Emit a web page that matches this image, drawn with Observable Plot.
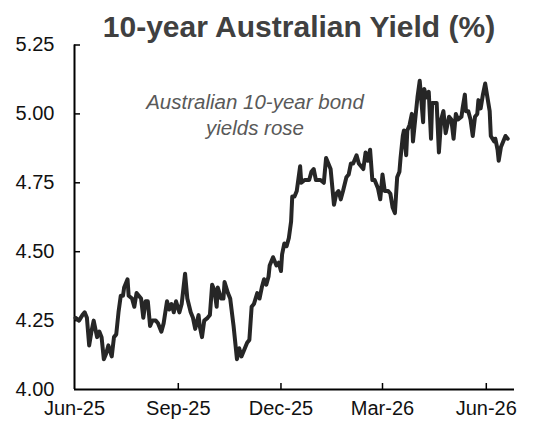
<!DOCTYPE html>
<html><head><meta charset="utf-8">
<script src="https://cdn.jsdelivr.net/npm/d3@7"></script>
<script src="https://cdn.jsdelivr.net/npm/@observablehq/plot@0.6"></script>
<style>
body{margin:0;background:#fff;}
#wrap{position:relative;width:540px;height:424px;font-family:"Liberation Sans",Arial,sans-serif;}
#title{position:absolute;left:0;top:12px;width:598px;text-align:center;font-size:30px;font-weight:bold;line-height:1;color:#404040;white-space:nowrap;}
</style></head><body>
<div id="wrap"><div id="chart"></div><div id="title">10-year Australian Yield (%)</div></div>
<script>
const dates = [
"2025-06-02","2025-06-05","2025-06-08","2025-06-10","2025-06-12","2025-06-14","2025-06-16","2025-06-18","2025-06-21","2025-06-23",
"2025-06-25","2025-06-27","2025-06-29","2025-07-01","2025-07-04","2025-07-06","2025-07-08","2025-07-10","2025-07-12","2025-07-14",
"2025-07-15","2025-07-18","2025-07-19","2025-07-22","2025-07-24","2025-07-26","2025-07-28","2025-07-30","2025-08-01","2025-08-03",
"2025-08-05","2025-08-07","2025-08-09","2025-08-12","2025-08-14","2025-08-17","2025-08-19","2025-08-22","2025-08-24","2025-08-26",
"2025-08-28","2025-08-30","2025-09-02","2025-09-04","2025-09-07","2025-09-09","2025-09-12","2025-09-14","2025-09-16","2025-09-19",
"2025-09-20","2025-09-22","2025-09-24","2025-09-27","2025-09-29","2025-10-01","2025-10-03","2025-10-05","2025-10-06","2025-10-09",
"2025-10-11","2025-10-12","2025-10-15","2025-10-17","2025-10-20","2025-10-23","2025-10-25","2025-10-27","2025-10-29","2025-11-01",
"2025-11-03","2025-11-05","2025-11-07","2025-11-10","2025-11-12","2025-11-14","2025-11-16","2025-11-18","2025-11-20","2025-11-21",
"2025-11-24","2025-11-26","2025-11-27","2025-11-29","2025-12-01","2025-12-02","2025-12-04","2025-12-06","2025-12-08","2025-12-10",
"2025-12-11","2025-12-13","2025-12-15","2025-12-16","2025-12-18","2025-12-19","2025-12-22","2025-12-24","2025-12-26","2025-12-28",
"2025-12-30","2026-01-01","2026-01-03","2026-01-05","2026-01-08","2026-01-10","2026-01-12","2026-01-14","2026-01-17","2026-01-19",
"2026-01-21","2026-01-23","2026-01-25","2026-01-28","2026-01-30","2026-02-01","2026-02-03","2026-02-06","2026-02-08","2026-02-10",
"2026-02-12","2026-02-14","2026-02-16","2026-02-18","2026-02-20","2026-02-22","2026-02-25","2026-02-27","2026-03-01","2026-03-03",
"2026-03-06","2026-03-08","2026-03-10","2026-03-12","2026-03-14","2026-03-16","2026-03-17","2026-03-19","2026-03-20","2026-03-22",
"2026-03-23","2026-03-25","2026-03-27","2026-03-28","2026-03-30","2026-04-01","2026-04-03","2026-04-06","2026-04-07","2026-04-09",
"2026-04-11","2026-04-13","2026-04-14","2026-04-16","2026-04-18","2026-04-20","2026-04-22","2026-04-24","2026-04-26","2026-04-29",
"2026-05-01","2026-05-03","2026-05-05","2026-05-07","2026-05-10","2026-05-11","2026-05-13","2026-05-14","2026-05-16","2026-05-18",
"2026-05-20","2026-05-22","2026-05-24","2026-05-25","2026-05-27","2026-05-29","2026-05-31","2026-06-02","2026-06-04","2026-06-05",
"2026-06-08","2026-06-09","2026-06-11","2026-06-12","2026-06-14","2026-06-16","2026-06-18","2026-06-20"
];
const yields = [
4.26,4.25,4.27,4.28,4.26,4.16,4.21,4.25,4.19,4.21,
4.19,4.11,4.13,4.16,4.12,4.19,4.20,4.28,4.34,4.34,
4.37,4.40,4.34,4.33,4.30,4.35,4.34,4.33,4.26,4.32,
4.32,4.23,4.25,4.25,4.24,4.21,4.24,4.32,4.29,4.31,
4.28,4.32,4.28,4.31,4.42,4.33,4.28,4.26,4.22,4.27,
4.23,4.19,4.25,4.26,4.27,4.38,4.36,4.30,4.37,4.33,
4.33,4.39,4.35,4.33,4.23,4.11,4.15,4.12,4.14,4.17,
4.18,4.30,4.31,4.35,4.33,4.37,4.40,4.38,4.41,4.45,
4.48,4.46,4.45,4.46,4.43,4.49,4.53,4.52,4.55,4.61,
4.70,4.70,4.72,4.75,4.81,4.75,4.76,4.76,4.76,4.79,
4.80,4.76,4.76,4.76,4.75,4.84,4.82,4.80,4.67,4.71,
4.72,4.69,4.72,4.77,4.78,4.82,4.82,4.85,4.82,4.81,
4.80,4.86,4.83,4.87,4.76,4.76,4.73,4.69,4.78,4.72,
4.72,4.71,4.66,4.64,4.77,4.79,4.84,4.92,4.94,4.85,
4.94,4.96,5.00,4.90,4.98,5.06,5.12,4.97,5.09,5.06,
5.08,4.91,5.04,5.04,5.04,4.86,4.98,5.01,4.93,4.99,
4.98,4.91,5.00,4.98,4.99,5.02,5.07,5.01,5.01,4.98,
4.92,4.99,5.00,5.05,5.02,5.07,5.11,5.06,5.01,4.92,
4.90,4.91,4.87,4.83,4.88,4.90,4.92,4.91
];
const yTicks = [4.00, 4.25, 4.50, 4.75, 5.00, 5.25];
const xTicks = ["2025-06-01","2025-09-01","2025-12-01","2026-03-01","2026-06-01"];
const xDomain = ["2025-06-01","2026-06-26"];
const noteDate = ["2025-11-08"];
const noteValue = [5.0];
const noteText = ["Australian 10-year bond\nyields rose"];

const data = dates.map((d, i) => ({date: new Date(d), value: yields[i]}));
const tickDates = xTicks.map(d => new Date(d));
const W = 540, H = 424, mL = 74, mR = 26, mT = 44.5, mB = 35;
const innerW = W - mL - mR, innerH = H - mT - mB;

const chart = Plot.plot({
  width: W, height: H,
  marginLeft: mL, marginRight: mR, marginTop: mT, marginBottom: mB,
  style: {fontFamily: '"Liberation Sans", Arial, sans-serif', fontSize: "20px", color: "#111", background: "#fff"},
  x: {type: "utc", domain: xDomain.map(d => new Date(d))},
  y: {domain: [4, 5.25]},
  marks: [
    Plot.axisY({ticks: yTicks, tickFormat: d3.format(".2f"), tickSize: 0, tickPadding: 20, label: null, fontSize: 20}),
    Plot.axisX({ticks: tickDates, tickFormat: d3.utcFormat("%b-%y"), tickSize: 0, tickPadding: 11, label: null, fontSize: 20}),
    Plot.ruleY(yTicks.slice(1), {stroke: "#000", strokeWidth: 1.5, insetRight: innerW - 6}),
    Plot.ruleX(tickDates.slice(1), {stroke: "#000", strokeWidth: 1.5, insetTop: innerH - 6}),
    Plot.ruleX([tickDates[0]], {stroke: "#000", strokeWidth: 2}),
    Plot.ruleY([4], {stroke: "#000", strokeWidth: 2}),
    Plot.lineY(data, {x: "date", y: "value", stroke: "#262626", strokeWidth: 4, strokeLinejoin: "round", strokeLinecap: "round"}),
    Plot.text(noteText, {x: noteDate.map(d => new Date(d)), y: noteValue, text: d => d, fontSize: 20.5, fontStyle: "italic", fill: "#595959", lineAnchor: "middle", lineHeight: 1.28, textAnchor: "middle"})
  ]
});
document.getElementById("chart").appendChild(chart);
</script>
</body></html>
